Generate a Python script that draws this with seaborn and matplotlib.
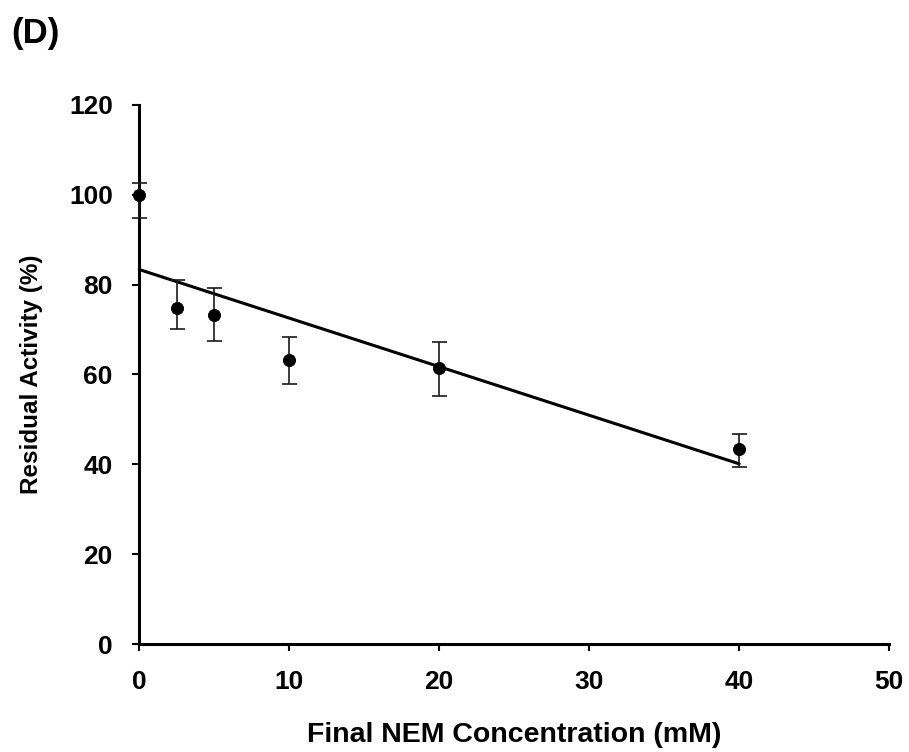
import matplotlib
matplotlib.use("Agg")
import matplotlib.pyplot as plt
import seaborn as sns
import numpy as np
import pandas as pd

nem_mM = [0, 2.5, 5, 10, 20, 40]
activity = [100.0, 74.9, 73.2, 63.3, 61.5, 43.5]
err_low = [5.1, 4.7, 5.8, 5.5, 6.2, 4.0]
err_high = [2.7, 6.1, 6.1, 5.0, 5.7, 3.3]
x_ticks = [0, 10, 20, 30, 40, 50]
y_ticks = [0, 20, 40, 60, 80, 100, 120]

sns.set_theme(style="white")
plt.rcParams['font.family'] = ['Liberation Sans', 'DejaVu Sans']
plt.rcParams['font.weight'] = 'bold'
plt.rcParams['text.color'] = 'black'
plt.rcParams['axes.labelcolor'] = 'black'
plt.rcParams['xtick.color'] = 'black'
plt.rcParams['ytick.color'] = 'black'

df = pd.DataFrame({"x": nem_mM, "y": activity})

fig = plt.figure(figsize=(9.09, 7.52), dpi=100)
ax = fig.add_axes([0.1532, 0.1436, 0.825, 0.7168])

sns.regplot(data=df, x="x", y="y", ax=ax, ci=None, scatter=False,
            line_kws=dict(color="black", lw=2.2))
ax.errorbar(nem_mM, activity, yerr=[err_low, err_high], fmt="none",
            ecolor="#1a1a1a", elinewidth=1.2, capsize=5.4, capthick=1.2, zorder=3)
sns.scatterplot(data=df, x="x", y="y", ax=ax, color="black", s=75,
                edgecolor="black", zorder=4, legend=False)

ax.set_xlim(0, 50)
ax.set_ylim(0, 120)
ax.set_xticks(x_ticks)
ax.set_yticks(y_ticks)
for s in ["top", "right"]:
    ax.spines[s].set_visible(False)
for s in ["left", "bottom"]:
    ax.spines[s].set_color("black")
    ax.spines[s].set_linewidth(2.2)
ax.tick_params(axis="both", direction="out", length=5, width=1.5, colors="black",
               labelsize=19, pad=14, bottom=True, left=True)
for lab in ax.get_xticklabels() + ax.get_yticklabels():
    lab.set_fontweight("bold")
ax.set_xlabel("Final NEM Concentration (mM)", fontsize=20.5, fontweight="bold", labelpad=20)
ax.set_ylabel("Residual Activity (%)", fontsize=17.5, fontweight="bold", labelpad=19)
for art in ax.collections + ax.lines:
    art.set_clip_on(False)

fig.text(0.012, 0.955, "(D)", fontsize=25, fontweight="bold", va="center", ha="left")

fig.savefig("out.png", dpi=100, facecolor="white")
